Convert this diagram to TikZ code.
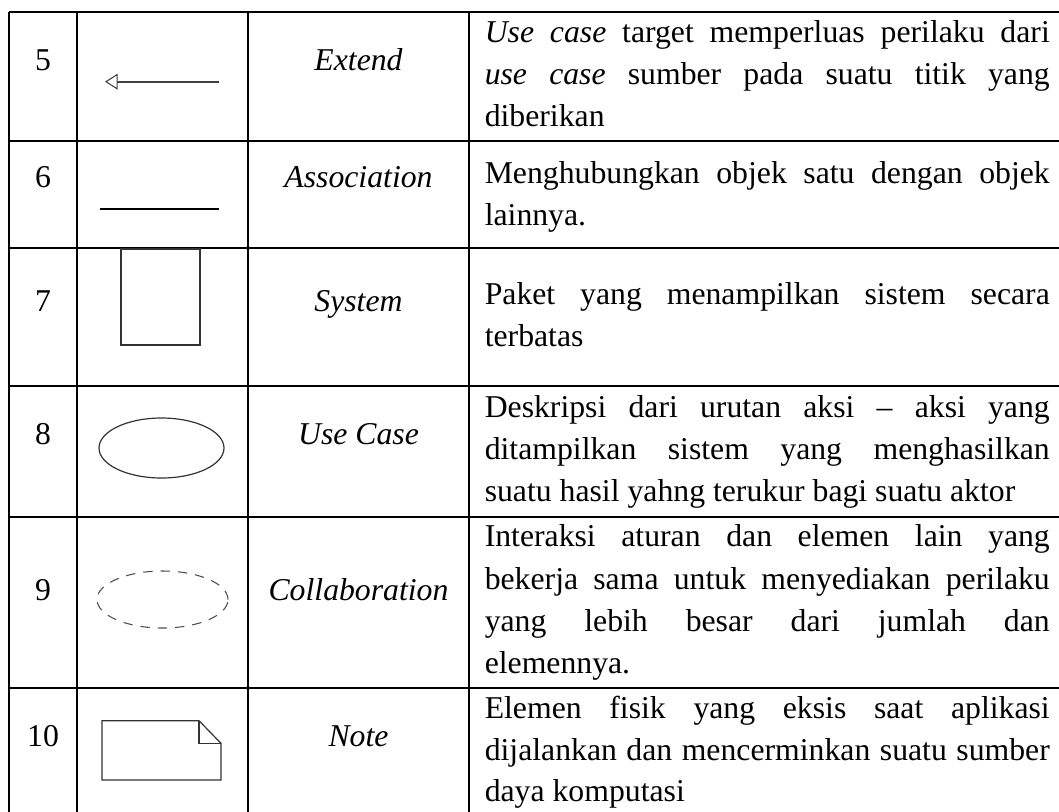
\documentclass[tikz,border=0pt]{standalone}
\usepackage{fontspec}
\setmainfont{Liberation Serif}
\usetikzlibrary{arrows.meta,shapes.geometric}
\newcommand{\justline}[1]{\makebox[423.75pt][s]{#1}}
\begin{document}
\begin{tikzpicture}[x=0.75pt,y=-0.75pt,
  gridline/.style={line width=1.3pt, black},
  txtcell/.style={inner sep=0pt, font=\fontsize{23.8pt}{31.5pt}\selectfont},
  desccell/.style={txtcell, anchor=base west},
  namecell/.style={inner sep=0pt, anchor=base, font=\fontsize{23.8pt}{31.5pt}\selectfont\itshape},
  numcell/.style={txtcell, anchor=base},
  shapeline/.style={draw=black!80, line width=0.9pt},
]
\useasboundingbox (0,0) rectangle (1059,811);
\clip (0,0) rectangle (1059,811);
% grid
\foreach \yy in {12,141,248,386,517,688}{\draw[gridline] (9,\yy) -- (1080,\yy);}
\foreach \xx in {9,77,248,469}{\draw[gridline] (\xx,12) -- (\xx,830);}

% row 5
\node[numcell] (n5) at (43,70) {5};
\node[namecell] (t5) at (358.5,70) {Extend};
\node[desccell] (d5a) at (484.5,42.5) {\justline{\textit{Use case} target memperluas perilaku dari}};
\node[desccell] (d5b) at (484.5,84.5) {\justline{\textit{use case} sumber pada suatu titik yang}};
\node[desccell] (d5c) at (484.5,126.5) {diberikan};
\coordinate (e5s) at (219,81.7);
\coordinate (e5t) at (105,81.7);
\draw[draw=black!75, line width=1.2pt, -{Triangle[open,length=9.5pt,width=12pt,line width=0.8pt]}] (e5s) -- (e5t);

% row 6
\node[numcell] (n6) at (43,187) {6};
\node[namecell] (t6) at (358.5,187) {Association};
\node[desccell] (d6a) at (484.5,183) {\justline{Menghubungkan objek satu dengan objek}};
\node[desccell] (d6b) at (484.5,225) {lainnya.};
\coordinate (a6l) at (100,209);
\coordinate (a6r) at (218.7,209);
\draw[black, line width=1.4pt] (a6l) -- (a6r);

% row 7
\node[numcell] (n7) at (43,311) {7};
\node[namecell] (t7) at (358.5,311) {System};
\node[desccell] (d7a) at (484.5,304) {\justline{Paket yang menampilkan sistem secara}};
\node[desccell] (d7b) at (484.5,346) {terbatas};
\node[shapeline, draw, inner sep=0pt, minimum width=59.25pt, minimum height=72pt] (sys) at (160.5,297) {};

% row 8
\node[numcell] (n8) at (43,444) {8};
\node[namecell] (t8) at (358.5,444) {Use Case};
\node[desccell] (d8a) at (484.5,417.7) {\justline{Deskripsi dari urutan aksi – aksi yang}};
\node[desccell] (d8b) at (484.5,459.7) {\justline{ditampilkan sistem yang menghasilkan}};
\node[desccell] (d8c) at (484.5,501.7) {suatu hasil yahng terukur bagi suatu aktor};
\node[shapeline, ellipse, draw, inner sep=0pt, minimum width=93.75pt, minimum height=45pt] (uc) at (161.5,448) {};

% row 9
\node[numcell] (n9) at (43,600) {9};
\node[namecell] (t9) at (358.5,600) {Collaboration};
\node[desccell] (d9a) at (484.5,546) {\justline{Interaksi aturan dan elemen lain yang}};
\node[desccell] (d9b) at (484.5,589) {\justline{bekerja sama untuk menyediakan perilaku}};
\node[desccell] (d9c) at (484.5,631.5) {\justline{yang lebih besar dari jumlah dan}};
\node[desccell] (d9d) at (484.5,673) {elemennya.};
\node[ellipse, draw=black!70, line width=0.8pt, dash pattern=on 7pt off 6pt, inner sep=0pt, minimum width=98.25pt, minimum height=42.75pt] (col) at (162.5,599.5) {};

% row 10
\node[numcell] (n10) at (43,746.5) {10};
\node[namecell] (t10) at (358.5,746.5) {Note};
\node[desccell] (d10a) at (484.5,718) {\justline{Elemen fisik yang eksis saat aplikasi}};
\node[desccell] (d10b) at (484.5,760) {\justline{dijalankan dan mencerminkan suatu sumber}};
\node[desccell] (d10c) at (484.5,801.7) {daya komputasi};
\coordinate (nt1) at (102,720.7);
\coordinate (nt2) at (199,720.7);
\coordinate (nt3) at (221,743.3);
\coordinate (nt4) at (221,780);
\coordinate (nt5) at (102,780);
\coordinate (nt6) at (199,743.3);
\draw[shapeline] (nt1) -- (nt2) -- (nt3) -- (nt4) -- (nt5) -- cycle;
\draw[shapeline] (nt2) -- (nt6) -- (nt3);
\end{tikzpicture}
\end{document}
